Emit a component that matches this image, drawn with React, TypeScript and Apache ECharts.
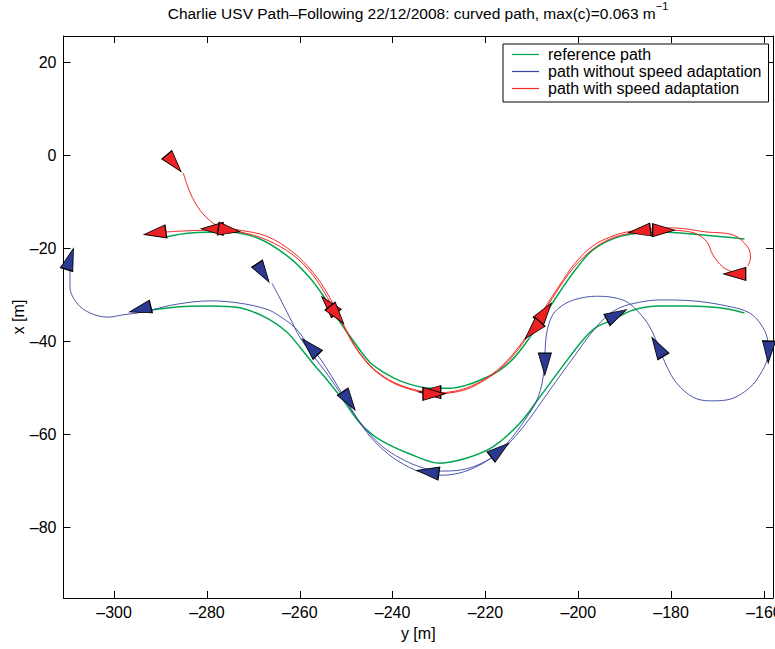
import React, { useEffect, useRef } from 'react';
import * as echarts from 'echarts';

// Horizontal axis = y [m], vertical axis = x [m]
const yTicks = [-300, -280, -260, -240, -220, -200, -180, -160];
const xTicks = [-80, -60, -40, -20, 0, 20];

// Reference path (green), upper leg
const refUpperY = [-289.0, -283.6, -275.7, -268.6, -262.1, -257.8, -254.6, -251.3, -248.1, -244.9, -241.7, -238.4, -234.1, -231.3, -227.7, -224.0, -220.1, -216.9, -213.7, -210.4, -207.2, -204.0, -200.7, -196.9, -192.1, -186.8, -182.4, -173.8, -164.2];
const refUpperX = [-17.6, -16.7, -16.5, -18.0, -22.1, -26.4, -30.7, -35.9, -40.4, -44.5, -46.8, -48.5, -49.8, -50.1, -50.1, -49.4, -47.9, -46.2, -43.4, -39.1, -34.3, -29.4, -24.7, -20.4, -17.8, -16.7, -16.5, -17.1, -18.0];
// Reference path (green), lower leg
const refLowerY = [-292.2, -286.4, -279.3, -272.9, -267.1, -262.8, -260.0, -257.2, -254.1, -250.7, -247.0, -242.7, -235.6, -229.8, -224.0, -218.4, -212.6, -208.3, -204.0, -199.0, -196.0, -192.6, -188.3, -182.4, -176.6, -169.5, -164.2];
const refLowerX = [-33.3, -32.6, -32.4, -32.8, -35.0, -38.0, -41.2, -44.7, -48.3, -52.6, -57.6, -61.2, -64.5, -66.2, -65.1, -62.7, -57.6, -52.0, -46.2, -39.7, -36.9, -35.4, -33.3, -32.4, -32.4, -32.8, -33.9];

// Path with speed adaptation (red), run 1 (eastward)
const redRun1Y = [-285.1, -283.6, -281.5, -278.7, -276.7, -272.9, -267.1, -261.5, -257.2, -254.1, -251.3, -248.1, -244.9, -241.7, -238.4, -234.1, -231.3, -227.7, -224.0, -220.1, -216.9, -213.7, -210.4, -207.2, -204.0, -200.7, -196.9, -193.2, -189.6, -184.6, -179.7, -172.3, -166.7, -163.5, -162.9, -163.5];
const redRun1X = [-3.8, -8.1, -11.8, -14.6, -15.6, -16.1, -17.4, -20.8, -25.1, -29.6, -35.0, -41.0, -45.1, -47.7, -49.4, -50.7, -51.1, -50.9, -50.0, -48.1, -45.7, -42.3, -37.8, -32.8, -27.9, -23.2, -19.5, -17.6, -16.5, -15.8, -15.6, -16.5, -17.1, -19.7, -22.1, -23.8];
// Path with speed adaptation (red), run 2 (westward)
const redRun2Y = [-166.7, -168.9, -171.0, -172.3, -174.5, -177.1, -179.7, -184.6, -189.6, -193.2, -196.9, -200.7, -204.0, -207.2, -210.4, -213.7, -216.9, -220.1, -224.0, -227.7, -231.3, -234.1, -238.4, -241.7, -244.9, -248.1, -251.3, -254.1, -257.2, -261.5, -267.1, -272.9, -279.3, -285.8, -288.8];
const redRun2X = [-25.1, -24.0, -21.4, -18.6, -16.9, -16.3, -16.1, -16.0, -16.9, -18.0, -20.2, -23.8, -28.3, -33.3, -38.2, -42.7, -46.0, -48.3, -50.3, -51.1, -51.4, -50.9, -49.6, -47.9, -45.3, -41.2, -35.4, -30.5, -25.7, -21.4, -18.2, -16.5, -16.1, -16.3, -16.5];

// Path without speed adaptation (blue)
const bluePathY = [-266.0, -264.3, -262.1, -260.0, -257.2, -253.9, -250.7, -248.1, -245.3, -242.1, -238.4, -234.1, -229.8, -225.5, -221.2, -216.9, -213.7, -210.4, -207.2, -204.0, -200.7, -197.5, -194.3, -191.1, -186.8, -182.4, -175.3, -168.0, -163.1, -160.3, -159.2, -159.2, -160.3, -163.1, -168.0, -171.7, -175.3, -178.8, -180.9, -182.4, -184.6, -187.4, -190.4, -196.0, -200.3, -203.3, -205.5, -206.8, -207.2, -207.6, -208.9, -211.5, -214.7, -218.0, -221.6, -225.5, -229.8, -234.1, -238.4, -241.7, -244.9, -247.7, -250.3, -252.9, -255.7, -258.5, -261.0, -264.3, -267.1, -272.9, -279.3, -286.4, -292.2, -295.0, -298.1, -301.3, -305.2, -308.0, -309.5, -309.5];
const bluePathX = [-27.5, -30.7, -35.0, -39.1, -43.0, -47.3, -52.0, -55.9, -59.5, -62.7, -65.1, -67.0, -67.9, -67.7, -66.4, -63.8, -60.6, -56.5, -52.0, -47.5, -43.0, -38.6, -35.0, -32.8, -31.6, -31.1, -31.3, -32.4, -33.9, -36.9, -40.2, -43.0, -46.2, -50.0, -52.6, -52.8, -52.0, -49.0, -45.5, -41.9, -36.9, -33.3, -31.1, -30.3, -30.9, -32.2, -34.3, -38.2, -43.0, -47.9, -52.6, -56.9, -61.2, -64.5, -66.8, -68.3, -68.8, -68.1, -66.0, -63.6, -60.4, -56.5, -52.2, -47.9, -43.6, -40.2, -37.1, -34.6, -33.1, -31.8, -31.3, -32.0, -33.3, -33.9, -34.3, -34.8, -33.9, -31.8, -28.3, -24.7];

// Vehicle pose markers: position and heading (deg, counter-clockwise from +y axis on screen)
const redArrowY = [-287.1, -291.2, -278.9, -275.2, -253.7, -252.0, -232.0, -231.1, -207.2, -209.8, -186.8, -181.6, -166.3];
const redArrowX = [-1.7, -16.7, -15.8, -16.1, -32.2, -34.3, -50.9, -51.3, -33.7, -37.6, -16.3, -16.1, -25.5];
const redArrowHeading = [-50, 188, 180, -8, 131, -52, 180, 0, 54, 228, 188, 0, 180];

const blueArrowY = [-267.9, -257.8, -249.4, -232.4, -216.9, -207.2, -191.7, -182.9, -159.0, -294.4, -309.5];
const blueArrowX = [-25.3, -41.2, -52.8, -68.1, -63.4, -44.9, -34.3, -41.2, -42.3, -33.1, -22.3];
const blueArrowHeading = [-57, 134, -56, 172, 38, -90, 28, 121, -92, 194, 72];

const Y_MIN = -310.9;
const Y_MAX = -158.05;
const X_MIN = -95.2;
const X_MAX = 25.66;

const FONT = '"Liberation Sans", Arial, Helvetica, sans-serif';
const GREEN = '#00a651';
const BLUE = '#3a44a2';
const RED = '#ee2a24';

const fmt = (v: number) => (v < 0 ? '\u2013' + Math.abs(v) : String(v));

export default function App() {
  const ref = useRef<HTMLDivElement>(null);
  useEffect(() => {
    const chart = echarts.init(ref.current!, null, { renderer: 'svg' });
    const zip = (ys: number[], xs: number[]) => ys.map((v, i) => [v, xs[i]]);
    const arrows = (ys: number[], xs: number[], hs: number[]) =>
      ys.map((v, i) => ({ value: [v, xs[i]], symbolRotate: hs[i] - 90 }));
    const axisLine = { show: true, onZero: false, lineStyle: { color: '#000', width: 1 } };
    const lineSeries = (name: string, data: number[][], color: string, width: number) => ({
      type: 'line',
      name,
      data,
      symbol: 'none',
      showSymbol: false,
      smooth: 0.35,
      lineStyle: { color, width },
      itemStyle: { color },
      z: 2,
    });
    chart.setOption({
      animation: false,
      backgroundColor: '#fff',
      textStyle: { fontFamily: FONT },
      title: {
        text: '{a|Charlie USV Path\u2013Following 22/12/2008: curved path, max(c)=0.063 m}{s|\u22121}',
        left: 418,
        top: 0,
        padding: 0,
        textAlign: 'center',
        textStyle: {
          fontWeight: 'normal',
          rich: {
            a: { fontFamily: FONT, fontSize: 15.5, fontWeight: 'normal', color: '#000', lineHeight: 26, verticalAlign: 'middle' },
            s: { fontFamily: FONT, fontSize: 11, fontWeight: 'normal', color: '#000', lineHeight: 16, verticalAlign: 'top' },
          },
        },
      },
      legend: {
        data: ['reference path', 'path without speed adaptation', 'path with speed adaptation'],
        orient: 'vertical',
        left: 503,
        top: 44,
        padding: [2, 7, 5, 9],
        itemGap: 0,
        itemWidth: 27,
        itemHeight: 1.2,
        icon: 'rect',
        backgroundColor: '#fff',
        borderColor: '#000',
        borderWidth: 1,
        borderRadius: 0,
        textStyle: { fontFamily: FONT, fontSize: 16, lineHeight: 17, color: '#000', padding: [0, 0, 0, 4] },
      },
      grid: { left: 63.5, top: 36, right: 2, bottom: 51, containLabel: false, outerBoundsMode: 'none' },
      xAxis: [
        {
          type: 'value',
          min: Y_MIN,
          max: Y_MAX,
          position: 'bottom',
          name: 'y [m]',
          nameLocation: 'middle',
          nameGap: 27,
          nameMoveOverlap: false,
          nameTextStyle: { fontFamily: FONT, fontSize: 16, color: '#000', verticalAlign: 'top' },
          axisLine,
          axisTick: { show: true, inside: true, length: 7, customValues: yTicks, lineStyle: { color: '#000' } },
          axisLabel: { customValues: yTicks, formatter: fmt, fontFamily: FONT, fontSize: 16, color: '#000', margin: 6, hideOverlap: false },
          splitLine: { show: false },
        },
        {
          type: 'value',
          min: Y_MIN,
          max: Y_MAX,
          position: 'top',
          axisLine,
          axisTick: { show: true, inside: true, length: 7, customValues: yTicks, lineStyle: { color: '#000' } },
          axisLabel: { show: false },
          splitLine: { show: false },
        },
      ],
      yAxis: [
        {
          type: 'value',
          min: X_MIN,
          max: X_MAX,
          position: 'left',
          name: 'x [m]',
          nameLocation: 'middle',
          nameGap: 37,
          nameRotate: 90,
          nameMoveOverlap: false,
          nameTextStyle: { fontFamily: FONT, fontSize: 16, color: '#000' },
          axisLine,
          axisTick: { show: true, inside: true, length: 7, customValues: xTicks, lineStyle: { color: '#000' } },
          axisLabel: { customValues: xTicks, formatter: fmt, fontFamily: FONT, fontSize: 16, color: '#000', margin: 7, hideOverlap: false },
          splitLine: { show: false },
        },
        {
          type: 'value',
          min: X_MIN,
          max: X_MAX,
          position: 'right',
          axisLine,
          axisTick: { show: true, inside: true, length: 7, customValues: xTicks, lineStyle: { color: '#000' } },
          axisLabel: { show: false },
          splitLine: { show: false },
        },
      ],
      series: [
        lineSeries('reference path', zip(refUpperY, refUpperX), GREEN, 1.5),
        lineSeries('reference path', zip(refLowerY, refLowerX), GREEN, 1.5),
        lineSeries('path without speed adaptation', zip(bluePathY, bluePathX), BLUE, 0.9),
        lineSeries('path with speed adaptation', zip(redRun1Y, redRun1X), RED, 1),
        lineSeries('path with speed adaptation', zip(redRun2Y, redRun2X), RED, 1),
        {
          type: 'scatter',
          name: 'blue arrows',
          data: arrows(blueArrowY, blueArrowX, blueArrowHeading),
          symbol: 'triangle',
          symbolSize: [13, 22],
          itemStyle: { color: '#2b3990', opacity: 1, borderColor: '#000', borderWidth: 1 },
          z: 5,
          clip: false,
        },
        {
          type: 'scatter',
          name: 'red arrows',
          data: arrows(redArrowY, redArrowX, redArrowHeading),
          symbol: 'triangle',
          symbolSize: [13, 22],
          itemStyle: { color: '#ed2124', opacity: 1, borderColor: '#000', borderWidth: 1 },
          z: 5,
          clip: false,
        },
      ],
    });
    return () => chart.dispose();
  }, []);
  return <div ref={ref} style={{ position: 'fixed', left: 0, top: 0, width: 775, height: 649 }} />;
}
